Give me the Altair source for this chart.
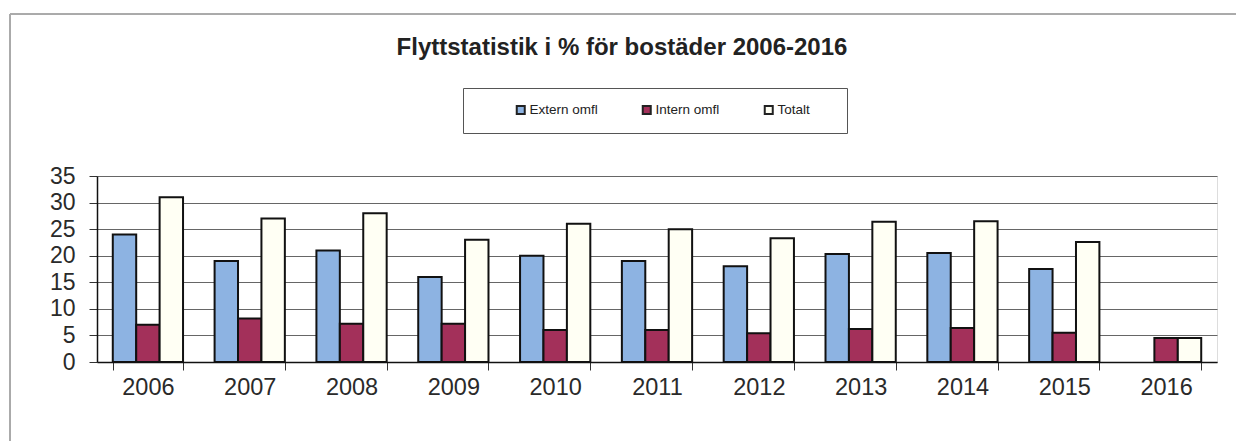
import altair as alt
import pandas as pd

years = ["2006", "2007", "2008", "2009", "2010", "2011", "2012", "2013", "2014", "2015", "2016"]
extern = [24, 19, 21, 16, 20, 19, 18, 20.3, 20.5, 17.5, None]
intern = [7, 8.2, 7.2, 7.2, 6, 6, 5.4, 6.2, 6.4, 5.5, 4.5]
totalt = [31, 27, 28, 23, 26, 25, 23.3, 26.4, 26.5, 22.6, 4.5]
series = ["Extern omfl", "Intern omfl", "Totalt"]
colors = ["#8db3e2", "#a3305a", "#fffff4"]

rows = []
for i, y in enumerate(years):
    for name, vals in zip(series, [extern, intern, totalt]):
        if vals[i] is not None:
            rows.append({"year": y, "series": name, "value": vals[i]})
df = pd.DataFrame(rows)

font = "Liberation Sans"

bars = alt.Chart(df).mark_bar(stroke="#111", strokeWidth=2).encode(
    x=alt.X("year:N", sort=years, title=None,
            scale=alt.Scale(paddingInner=0.31, paddingOuter=0.155),
            axis=alt.Axis(labelAngle=0, labelFontSize=23.5, labelColor="#2a2a2a", labelFont=font,
                          tickBand="extent", tickSize=8, tickColor="#333", domainColor="#111",
                          domainWidth=1.5, labelPadding=5, grid=False)),
    xOffset=alt.XOffset("series:N", sort=series, scale=alt.Scale(domain=series)),
    y=alt.Y("value:Q", title=None,
            scale=alt.Scale(domain=[0, 35], nice=False),
            axis=alt.Axis(values=[0, 5, 10, 15, 20, 25, 30, 35], labelFontSize=23, labelColor="#2a2a2a",
                          labelFont=font, tickSize=8, tickColor="#333", domainColor="#111",
                          domainWidth=1.5, labelPadding=14, grid=True, gridColor="#666",
                          gridWidth=1.2)),
    color=alt.Color("series:N", sort=series,
                    scale=alt.Scale(domain=series, range=colors),
                    legend=alt.Legend(title="XXX", titleOrient="right", titleOpacity=0,
                                      titleFontSize=10, titlePadding=1,
                                      orient="none", legendX=366, legendY=-88,
                                      direction="horizontal", symbolType="square",
                                      symbolSize=64, symbolStrokeColor="#222", symbolStrokeWidth=2,
                                      labelFontSize=13.5, labelFont=font, labelColor="#222",
                                      labelOffset=2, columnPadding=6, padding=15,
                                      symbolOffset=36,
                                      strokeColor="#555", fillColor="#ffffff")),
)

frame = alt.Chart(df).mark_rect(fill=None, stroke="#aaa", strokeWidth=1).encode(
    x=alt.value(-87), x2=alt.value(1150), y=alt.value(-162), y2=alt.value(300)
)

chart = alt.layer(frame, bars).properties(
    width=1120, height=186,
    title=alt.Title("Flyttstatistik i % för bostäder 2006-2016", font=font, fontSize=24,
                    fontWeight="bold", color="#222", anchor="middle", dx=-35, offset=0, dy=46),
    autosize=alt.AutoSizeParams(type="none"),
    padding={"left": 97, "top": 176, "right": 19, "bottom": 79},
).configure_view(fill="#e3e3e3", stroke="#777", strokeWidth=1).configure(background="#ffffff")

chart.save("out.html", embed_options={"renderer": "svg", "actions": False})
